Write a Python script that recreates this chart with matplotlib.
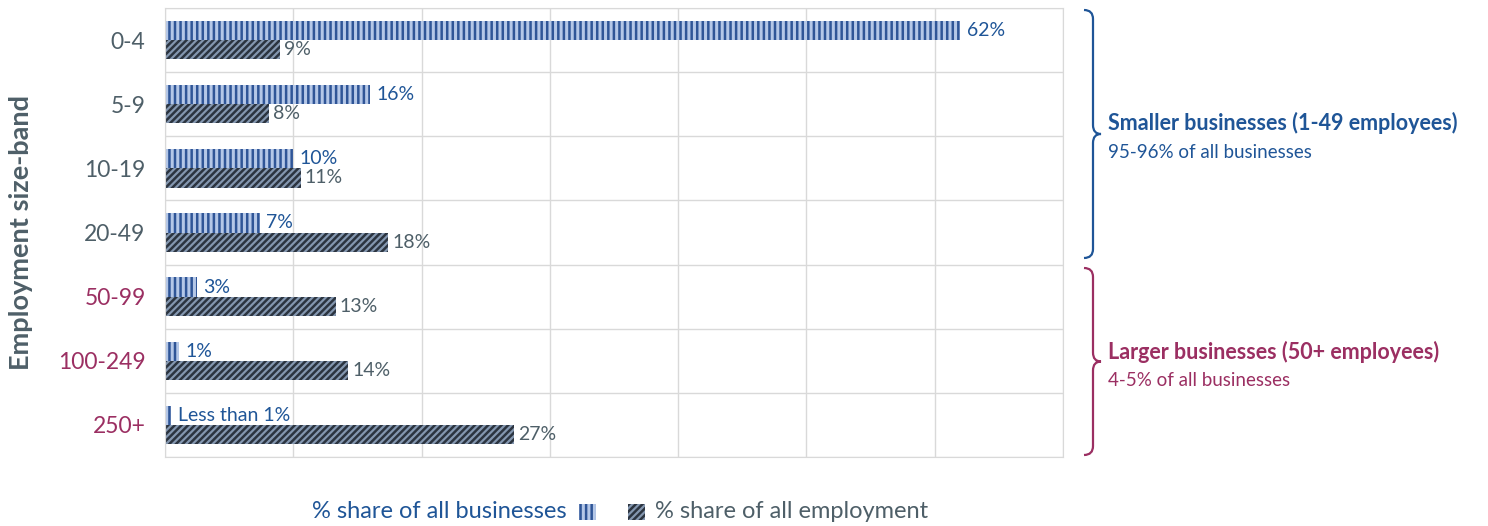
import numpy as np
import matplotlib.pyplot as plt
from matplotlib.path import Path
from matplotlib.patches import PathPatch, Rectangle

plt.rcParams['font.family'] = ['Lato', 'DejaVu Sans']
plt.rcParams['hatch.linewidth'] = 1.8

# data
bands = ['0-4', '5-9', '10-19', '20-49', '50-99', '100-249', '250+']
biz_share = [62, 16, 10, 7.4, 2.5, 1.1, 0.5]
emp_share = [9, 8.1, 10.6, 17.4, 13.3, 14.3, 27.2]
biz_labels = ['62%', '16%', '10%', '7%', '3%', '1%', 'Less than 1%']
emp_labels = ['9%', '8%', '11%', '18%', '13%', '14%', '27%']

BLUE = '#1F5597'
SLATE = '#4E5F68'
MAROON = '#9B2F62'
GRID = '#D9D9D9'

W, H = 1488, 526
fig = plt.figure(figsize=(W / 100, H / 100), dpi=100)
ax = fig.add_axes([165 / W, 1 - 457 / H, (1063 - 165) / W, (457 - 8) / H])

y = np.arange(len(bands))
h = 0.3
ax.barh(y - h / 2, biz_share, height=h, color='#B4C7E7', edgecolor='#2F5597',
        hatch='|||', linewidth=0)
ax.barh(y + h / 2, emp_share, height=h, color='#8497B0', edgecolor='#2B3440',
        hatch='/////', linewidth=0)

for i in range(len(bands)):
    ax.text(biz_share[i] + 0.5, y[i] - h / 2, biz_labels[i], va='center', ha='left',
            fontsize=14, color=BLUE)
    ax.text(emp_share[i] + 0.3, y[i] + h / 2, emp_labels[i], va='center', ha='left',
            fontsize=14, color=SLATE)

ax.set_xlim(0, 70)
ax.set_ylim(len(bands) - 0.5, -0.5)
ax.set_xticks(np.arange(0, 71, 10))
ax.set_xticklabels([])
ax.set_yticks(y)
ax.set_yticklabels(bands, fontsize=16.5)
for i, lab in enumerate(ax.get_yticklabels()):
    lab.set_color(SLATE if i < 4 else MAROON)
ax.set_yticks(np.arange(-0.5, len(bands), 1), minor=True)
ax.tick_params(axis='both', which='both', length=0)
ax.tick_params(axis='y', pad=14)
ax.grid(axis='x', which='major', color=GRID, linewidth=1)
ax.grid(axis='y', which='minor', color=GRID, linewidth=1)
ax.set_axisbelow(True)
for s in ax.spines.values():
    s.set_color(GRID)
ax.set_ylabel('Employment size-band', fontsize=19.5, fontweight='bold', color=SLATE)
ax.yaxis.set_label_coords(-132 / (1063 - 165), 0.5)


def px(x, yy):
    return (x / W, 1 - yy / H)


def brace(top, bottom, color):
    mid = (top + bottom) / 2
    x0, x1, xt = 1084, 1093, 1101
    verts = [px(x0, top), px(x1, top), px(x1, top + 9),
             px(x1, mid - 9), px(x1, mid), px(xt, mid),
             px(x1, mid), px(x1, mid + 9),
             px(x1, bottom - 9), px(x1, bottom), px(x0, bottom)]
    codes = [Path.MOVETO, Path.CURVE3, Path.CURVE3,
             Path.LINETO, Path.CURVE3, Path.CURVE3,
             Path.CURVE3, Path.CURVE3,
             Path.LINETO, Path.CURVE3, Path.CURVE3]
    fig.patches.append(PathPatch(Path(verts, codes), transform=fig.transFigure,
                                 facecolor='none', edgecolor=color, linewidth=1.6))


brace(10, 258, BLUE)
brace(268, 455, MAROON)

fig.text(*px(1108, 123), 'Smaller businesses (1-49 employees)', fontsize=15.5,
         fontweight='bold', color=BLUE, va='center')
fig.text(*px(1108, 153), '95-96% of all businesses', fontsize=13.5, color=BLUE,
         va='center')
fig.text(*px(1108, 352), 'Larger businesses (50+ employees)', fontsize=15.5,
         fontweight='bold', color=MAROON, va='center')
fig.text(*px(1108, 380), '4-5% of all businesses', fontsize=13.5, color=MAROON,
         va='center')

# legend
fig.text(*px(567, 512), '% share of all businesses', fontsize=17, color=BLUE,
         va='center', ha='right')
fig.patches.append(Rectangle(px(579, 520), 17 / W, 16 / H, transform=fig.transFigure,
                             facecolor='#B4C7E7', edgecolor='#2F5597', hatch='|||',
                             linewidth=0))
fig.patches.append(Rectangle(px(628, 520), 17 / W, 16 / H, transform=fig.transFigure,
                             facecolor='#8497B0', edgecolor='#2B3440', hatch='/////',
                             linewidth=0))
fig.text(*px(655, 512), '% share of all employment', fontsize=17, color=SLATE,
         va='center', ha='left')

fig.savefig('out.png', dpi=100, facecolor='white')
